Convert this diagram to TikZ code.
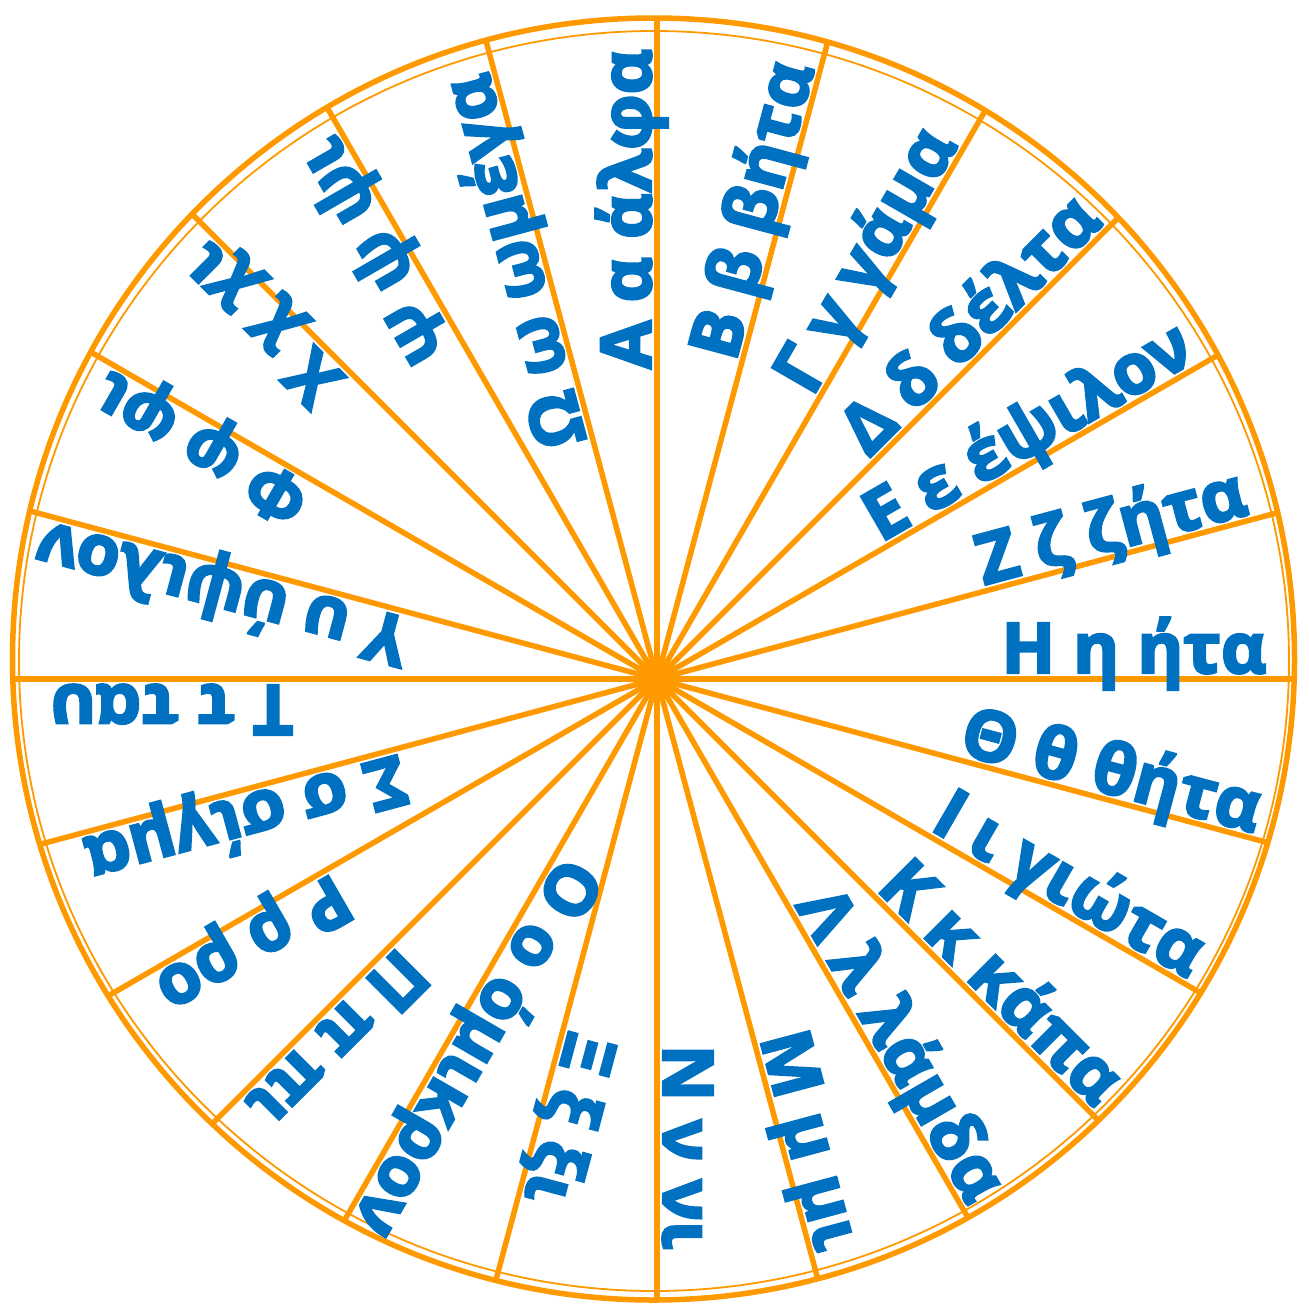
\documentclass[tikz,border=0pt]{standalone}
\usepackage{fontspec}
\newfontfamily\gkfont{Open Sans}[BoldFont={Open Sans Bold}, BoldFeatures={FakeBold=3.5}]
\definecolor{wheelorange}{HTML}{FF9900}
\definecolor{wheelblue}{HTML}{0070C0}
\begin{document}
\begin{tikzpicture}[x=1pt,y=-1pt,
  lbl/.style={text=wheelblue, font=\fontsize{70}{84}\selectfont\bfseries\gkfont, inner sep=0pt},
  spoke/.style={draw=wheelorange, line width=5.5pt},
  rim/.style={draw=wheelorange, line width=5.5pt},
  innerrim/.style={draw=wheelorange, line width=1.8pt}]
\useasboundingbox (0,0) rectangle (1309,1304);
\fill[white] (0,0) rectangle (1309,1304);
\coordinate (C) at (657,679);
\begin{scope}
  \clip (653.5,659) circle [radius=641pt];
  \foreach \a in {0,15,...,345}
    \draw[spoke] (C) -- ++({800*cos(\a)},{-800*sin(\a)});
\end{scope}
\draw[rim] (653.5,659) circle [radius=641pt];
\draw[innerrim] (654,661) ellipse [x radius=635pt, y radius=630pt];
\foreach \a/\s/\t/\n in {
  90/470/{Α α άλφα}/la,
  75/478/{Β β βήτα}/lb,
  60/467/{Γ γ γάμα}/lg,
  45/472/{Δ δ δέλτα}/ld,
  30/445/{Ε ε έψιλον}/le,
  15/478/{Ζ ζ ζήτα}/lz,
  0/477/{Η η ήτα}/lh,
  -15/463/{Θ θ θήτα}/lth,
  -30/460/{Ι ι γιώτα}/li,
  -45/458/{Κ κ κάπα}/lk,
  -60/439/{Λ λ λάμδα}/ll,
  -75/485/{Μ μ μι}/lm,
  -90/468/{Ν ν νι}/ln,
  -105/448/{Ξ ξ ξι}/lx,
  -120/410/{Ο ο όμικρον}/lo,
  -135/481/{Π π πι}/lp,
  -150/482/{Ρ ρ ρο}/lr,
  -165/433/{Σ σ σίγμα}/ls,
  180/485/{Τ τ ταυ}/lt,
  165/442/{Υ υ ύψιλον}/lu,
  150/510/{Φ φ φι}/lf,
  135/530/{Χ χ χι}/lc,
  120/512/{Ψ ψ ψι}/lps,
  105/440/{Ω ω ωμέγα}/lw}
  \node[lbl, rotate=\a, anchor=base] (\n) at ({657+\s*cos(\a)-6*sin(\a)},{679-\s*sin(\a)-6*cos(\a)}) {\t};
\end{tikzpicture}
\end{document}
